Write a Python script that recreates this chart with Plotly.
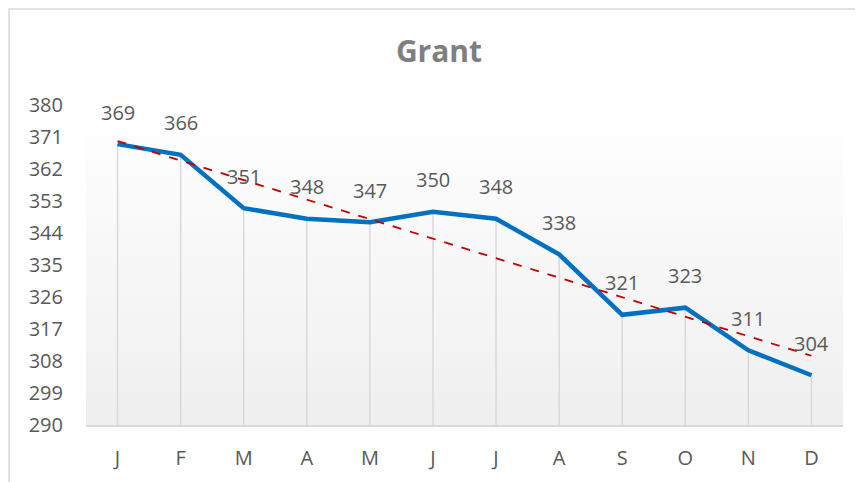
import numpy as np
import plotly.graph_objects as go

months = ["J", "F", "M", "A", "M", "J", "J", "A", "S", "O", "N", "D"]
values = [369, 366, 351, 348, 347, 350, 348, 338, 321, 323, 311, 304]
y_ticks = list(range(290, 381, 9))
title_text = "Grant"

x_idx = list(range(len(months)))
slope, intercept = np.polyfit(x_idx, values, 1)
trend = [slope * i + intercept for i in x_idx]

FONT = "Open Sans"
GRAY = "#595959"

W, H = 855, 474          # page body has an 8px margin
ML, MR, MT, MB = 78, 20, 97, 57
PW, PH = W - ML - MR, H - MT - MB

fig = go.Figure()

# drop lines
dx, dy = [], []
for i, v in zip(x_idx, values):
    dx += [i, i, None]
    dy += [290, v, None]
fig.add_trace(go.Scatter(x=dx, y=dy, mode="lines",
                         line=dict(color="#d9d9d9", width=1.5),
                         hoverinfo="skip", showlegend=False))

fig.add_trace(go.Scatter(x=x_idx, y=values, mode="lines",
                         line=dict(color="#0070C0", width=4.5),
                         showlegend=False))

fig.add_trace(go.Scatter(x=x_idx, y=trend, mode="lines",
                         line=dict(color="#C00000", width=1.8, dash="dash"),
                         hoverinfo="skip", showlegend=False))

for i, v in zip(x_idx, values):
    fig.add_annotation(x=i, y=v, text=str(v), showarrow=False,
                       yanchor="middle", yshift=32,
                       font=dict(family=FONT, size=20, color=GRAY))

# gradient plot background
n = 40
shapes = []
for k in range(n):
    t = k / (n - 1)
    c = int(round(255 - t * 16))
    shapes.append(dict(type="rect", xref="x domain", yref="y domain",
                       x0=0, x1=1, y0=1 - (k + 1) / n, y1=1 - k / n,
                       fillcolor=f"rgb({c},{c},{c})", line=dict(width=0),
                       layer="below"))
# chart border (left and top visible)
shapes.append(dict(type="rect", xref="paper", yref="paper",
                   x0=(1 - ML) / PW, x1=1.5, y0=-0.5, y1=1 + (MT - 1) / PH,
                   line=dict(color="#d9d9d9", width=1.5), layer="below"))

fig.update_layout(
    width=W, height=H,
    margin=dict(l=ML, r=MR, t=MT, b=MB),
    paper_bgcolor="white", plot_bgcolor="white",
    shapes=shapes,
    title=dict(text=f"<b>{title_text}</b>", x=431 / W, xanchor="center",
               y=(H - 43) / H, yanchor="middle", yref="container",
               font=dict(family=FONT, size=30, color="#7f7f7f")),
    xaxis=dict(tickmode="array", tickvals=x_idx, ticktext=months,
               range=[-0.5, 11.5], showgrid=False, zeroline=False,
               showline=True, linecolor="#d9d9d9", linewidth=1.5,
               ticks="", ticklabelstandoff=14,
               tickfont=dict(family=FONT, size=20, color=GRAY)),
    yaxis=dict(tickmode="array", tickvals=y_ticks, range=[290, 380],
               showgrid=False, zeroline=False, showline=False, ticks="",
               ticklabelstandoff=22,
               tickfont=dict(family=FONT, size=20, color=GRAY)),
)

fig.write_html("out.html")
